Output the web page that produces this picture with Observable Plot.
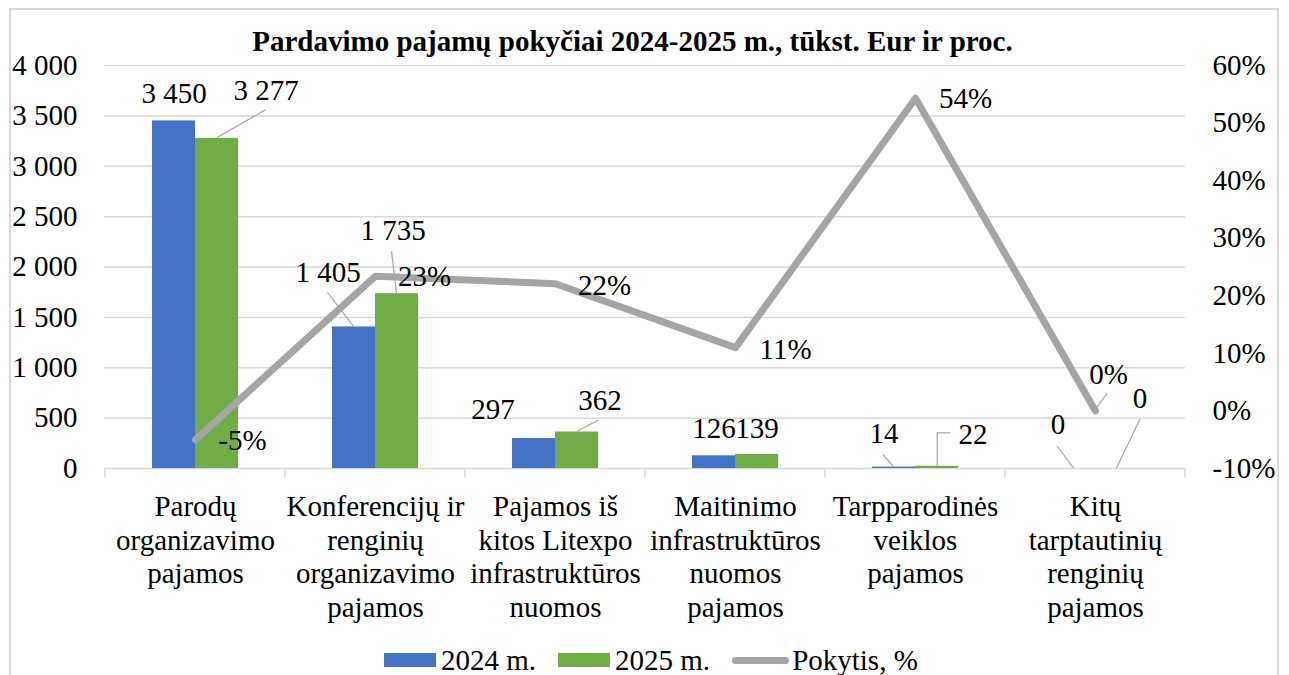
<!DOCTYPE html>
<html>
<head>
<meta charset="utf-8">
<script src="https://cdn.jsdelivr.net/npm/d3@7"></script>
<script src="https://cdn.jsdelivr.net/npm/@observablehq/plot@0.6"></script>
<style>
  body { margin: 0; background: #fff; }
  #wrap { position: relative; width: 1289px; height: 675px; overflow: hidden; background: #fff;
          font-family: 'Liberation Serif', 'Times New Roman', serif; color: #000; }
  #frame { position: absolute; left: 9px; top: 8px; width: 1270px; height: 720px;
           border: 2px solid #d9d9d9; box-sizing: border-box; }
  #title { position: absolute; left: -12px; width: 1289px; top: 27px; text-align: center;
           font-weight: bold; font-size: 29px; line-height: 1; white-space: nowrap; }
  #chart { position: absolute; left: 0; top: 50px; }
  #legend { position: absolute; left: 384px; top: 646px; display: flex; align-items: center;
            font-size: 29px; line-height: 28px; white-space: nowrap; }
  .sw { display: inline-block; width: 52px; height: 14px; margin-right: 5px; }
  .ln { display: inline-block; width: 57px; height: 7px; border-radius: 4px; background: #a5a5a5; margin-right: 3px; }
  .item { display: flex; align-items: center; margin-right: 22px; }
</style>
</head>
<body>
<div id="wrap">
  <div id="frame"></div>
  <div id="title">Pardavimo pajamų pokyčiai 2024-2025 m., tūkst. Eur ir proc.</div>
  <div id="chart"></div>
  <div id="legend">
    <span class="item"><span class="sw" style="background:#4472c4"></span>2024 m.</span>
    <span class="item"><span class="sw" style="background:#70ad47"></span>2025 m.</span>
    <span class="item"><span class="ln"></span>Pokytis, %</span>
  </div>
</div>
<script>
// ---- data ----
const categories = [
  "Parodų\norganizavimo\npajamos",
  "Konferencijų ir\nrenginių\norganizavimo\npajamos",
  "Pajamos iš\nkitos Litexpo\ninfrastruktūros\nnuomos",
  "Maitinimo\ninfrastruktūros\nnuomos\npajamos",
  "Tarpparodinės\nveiklos\npajamos",
  "Kitų\ntarptautinių\nrenginių\npajamos"
];
const sales2024 = [3450, 1405, 297, 126, 14, 0];
const sales2025 = [3277, 1735, 362, 139, 22, 0];
const changePct = [-5, 23.4, 22.1, 11, 54.3, 0];
const leftTicks = [0, 500, 1000, 1500, 2000, 2500, 3000, 3500, 4000];
const rightTicks = [-10, 0, 10, 20, 30, 40, 50, 60];
const seriesNames = ["2024 m.", "2025 m.", "Pokytis, %"];

// ---- label placement (pixel offsets, styling only) ----
const labelOffsets2024 = [[0,-27],[-26,-54],[-41,-29],[0,-27],[-10,-33],[-16,-44]];
const labelOffsets2025 = [[49,-48],[-4,-63],[23,-31],[0,-26],[36,-32],[23,-70]];
const labelOffsetsPct  = [[47,1],[49,1],[49,2],[50,2],[50,0],[13,-36]];
const leaders = [
  {s: 0, i: 1, pts: [[-26,-34],[0,0]]},
  {s: 0, i: 4, pts: [[-10.5,-12],[0,0]]},
  {s: 0, i: 5, pts: [[-16.5,-22],[0,0]]},
  {s: 1, i: 0, pts: [[49,-28],[0,0]]},
  {s: 1, i: 1, pts: [[-5,-42],[0,0]]},
  {s: 1, i: 2, pts: [[22,-11.5],[0,0]]},
  {s: 1, i: 4, pts: [[13.7,-33],[0.7,-33],[0.7,0]]},
  {s: 1, i: 5, pts: [[23.5,-49],[0,0]]},
  {s: 2, i: 5, pts: [[12,-17],[2,-3]]}
];

const YMAX = 4000, PMIN = -10, PMAX = 60;
const toLeft = p => (p - PMIN) * YMAX / (PMAX - PMIN);
const fromLeft = v => v * (PMAX - PMIN) / YMAX + PMIN;
const fmt = d3.formatLocale({decimal: ",", thousands: "\u00a0", grouping: [3], currency: ["", ""]}).format(",");

const rows2024 = categories.map((c, i) => ({cat: c, value: sales2024[i]}));
const rows2025 = categories.map((c, i) => ({cat: c, value: sales2025[i]}));
const rowsPct = categories.map((c, i) => ({cat: c, p: changePct[i], v: toLeft(changePct[i])}));

const HALF = 43; // half of the group width
const BLUE = "#4472c4", GREEN = "#70ad47", GRAY = "#a5a5a5";

function center(x, cat) {
  const bw = x.bandwidth ? x.bandwidth() : 0;
  return x(cat) + bw / 2;
}

// category separator ticks
const sepTicks = (index, scales) => {
  const x = scales.x, y = scales.y;
  const c0 = center(x, categories[0]), c1 = center(x, categories[1]);
  const step = c1 - c0;
  const y0 = y(0);
  const g = d3.create("svg:g");
  for (let k = 0; k <= categories.length; k++) {
    const xx = c0 - step / 2 + k * step;
    g.append("line").attr("x1", xx).attr("x2", xx).attr("y1", y0).attr("y2", y0 + 9)
      .attr("stroke", "#d9d9d9").attr("stroke-width", 1.5);
  }
  return g.node();
};

// leader lines
const leaderMark = (index, scales) => {
  const x = scales.x, y = scales.y;
  const g = d3.create("svg:g");
  for (const L of leaders) {
    const c = center(x, categories[L.i]);
    let bx, by;
    if (L.s === 0) { bx = c - HALF / 2; by = y(sales2024[L.i]); }
    else if (L.s === 1) { bx = c + HALF / 2; by = y(sales2025[L.i]); }
    else { bx = c; by = y(toLeft(changePct[L.i])); }
    g.append("polyline")
      .attr("points", L.pts.map(([dx, dy]) => `${bx + dx},${by + dy}`).join(" "))
      .attr("fill", "none").attr("stroke", "#a6a6a6").attr("stroke-width", 1.2);
  }
  return g.node();
};

const labelMarks = [];
rows2024.forEach((d, i) => labelMarks.push(Plot.text([d], {
  x: "cat", y: "value", text: r => fmt(r.value),
  dx: -HALF / 2 + labelOffsets2024[i][0], dy: labelOffsets2024[i][1], fill: "#000"
})));
rows2025.forEach((d, i) => labelMarks.push(Plot.text([d], {
  x: "cat", y: "value", text: r => fmt(r.value),
  dx: HALF / 2 + labelOffsets2025[i][0], dy: labelOffsets2025[i][1], fill: "#000"
})));
rowsPct.forEach((d, i) => labelMarks.push(Plot.text([d], {
  x: "cat", y: "v", text: r => Math.round(r.p) + "%",
  dx: labelOffsetsPct[i][0], dy: labelOffsetsPct[i][1], fill: "#000"
})));

const pIn = 1 - 86 / (1081 / 6);

const chart = Plot.plot({
  width: 1289,
  height: 570,
  marginTop: 15,
  marginBottom: 152,
  marginLeft: 104,
  marginRight: 104,
  style: {fontFamily: "'Liberation Serif', 'Times New Roman', serif", fontSize: "29px", color: "#000", background: "transparent", overflow: "visible"},
  x: {domain: categories, paddingInner: pIn, paddingOuter: pIn / 2, axis: null, label: null},
  y: {domain: [0, YMAX], axis: null, label: null},
  marks: [
    Plot.ruleY(leftTicks, {stroke: "#d9d9d9", strokeWidth: 1.5}),
    sepTicks,
    Plot.axisY({ticks: leftTicks, tickSize: 0, tickPadding: 27, tickFormat: fmt, label: null}),
    Plot.axisY({anchor: "right", ticks: rightTicks.map(toLeft), tickSize: 0, tickPadding: 27,
                tickFormat: v => Math.round(fromLeft(v)) + "%", label: null}),
    Plot.axisX({tickSize: 0, tickPadding: 23, lineHeight: 1.17, label: null}),
    Plot.barY(rows2024, {x: "cat", y: "value", fill: BLUE, insetRight: HALF}),
    Plot.barY(rows2025, {x: "cat", y: "value", fill: GREEN, insetLeft: HALF}),
    Plot.line(rowsPct, {x: "cat", y: "v", stroke: GRAY, strokeWidth: 7, strokeLinecap: "round", strokeLinejoin: "round"}),
    leaderMark,
    ...labelMarks
  ]
});
document.getElementById("chart").appendChild(chart);
</script>
</body>
</html>
